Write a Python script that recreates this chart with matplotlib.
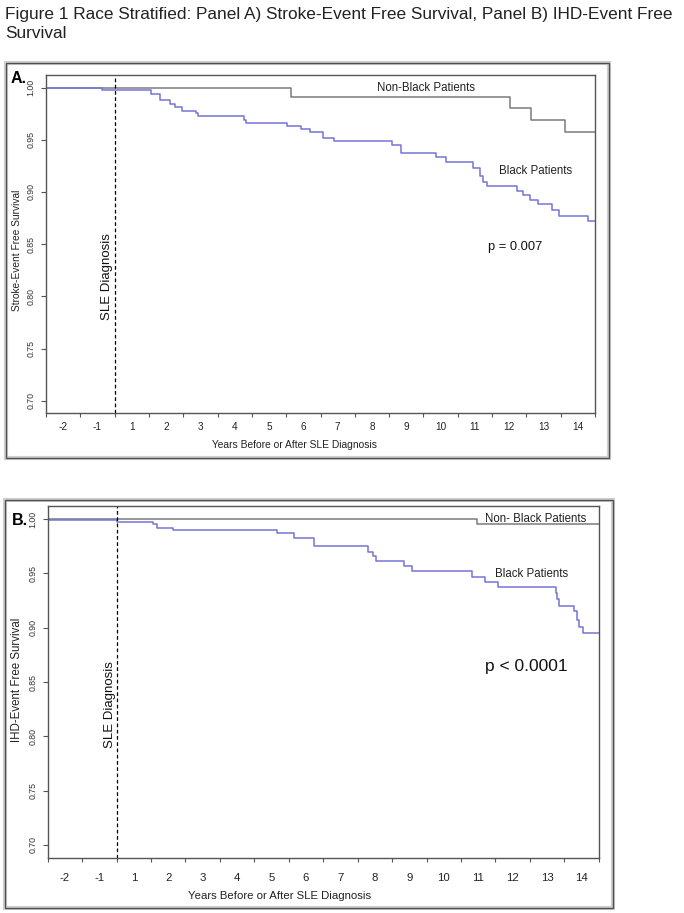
import numpy as np
import matplotlib
matplotlib.use('Agg')
import matplotlib.pyplot as plt
from matplotlib.patches import Rectangle

plt.rcParams['font.family'] = ['Liberation Sans', 'DejaVu Sans']

# panel A: stroke-event free survival (step times / levels)
a_black_t = [-2, -0.36, 1.05, 1.33, 1.61, 1.76, 1.97, 2.37, 2.44, 3.77, 3.83, 5.03, 5.42, 5.70,
             6.08, 6.40, 8.09, 8.34, 9.38, 9.67, 10.45, 10.65, 10.73, 10.84, 11.72, 11.89,
             12.11, 12.35, 12.74, 12.96, 13.81]
a_black_s = [1.000, 0.998, 0.994, 0.988, 0.984, 0.981, 0.978, 0.976, 0.973, 0.969, 0.966, 0.963,
             0.960, 0.957, 0.952, 0.949, 0.945, 0.937, 0.933, 0.929, 0.923, 0.915, 0.910, 0.906,
             0.901, 0.897, 0.892, 0.888, 0.883, 0.877, 0.872]
a_other_t = [-2, 5.13, 11.52, 12.13, 13.13]
a_other_s = [1.000, 0.991, 0.980, 0.969, 0.957]

# panel B: IHD-event free survival
b_black_t = [-2, -1.95, 0.0, 1.05, 1.18, 1.65, 4.67, 5.15, 5.73, 7.31, 7.46, 7.53, 8.35, 8.59,
             10.33, 10.70, 11.07, 12.75, 12.80, 12.85, 13.28, 13.36, 13.44, 13.53]
b_black_s = [1.000, 0.999, 0.997, 0.995, 0.992, 0.990, 0.987, 0.983, 0.975, 0.970, 0.966, 0.961,
             0.957, 0.952, 0.947, 0.942, 0.937, 0.932, 0.926, 0.920, 0.915, 0.907, 0.901, 0.895]
b_other_t = [-2, 10.47]
b_other_s = [1.000, 0.995]

year_labels = [-2, -1, 1, 2, 3, 4, 5, 6, 7, 8, 9, 10, 11, 12, 13, 14]
y_ticks = [0.70, 0.75, 0.80, 0.85, 0.90, 0.95, 1.00]

BLUE = '#7474d8'
GREY = '#7a7a7a'
T_END = 14


def steps(t, s):
    # extend last level to the end of follow-up
    return list(t) + [T_END], list(s) + [s[-1]]


fig = plt.figure(figsize=(6.84, 9.13), dpi=100)
W, H = 684.0, 913.0

fig.text(5 / W, 1 - 15 / H, 'Figure 1 Race Stratified: Panel A) Stroke-Event Free Survival, '
         'Panel B) IHD-Event Free', fontsize=12.4, va='center', ha='left', color='#222222')
fig.text(5 / W, 1 - 34 / H, 'Survival', fontsize=12.4, va='center', ha='left', color='#222222')

# boxes around panels
for (x0, y0, x1, y1) in [(6, 63, 609, 458), (5, 500, 613, 908)]:
    fig.patches.append(Rectangle((x0 / W, 1 - y1 / H), (x1 - x0) / W, (y1 - y0) / H,
                                 transform=fig.transFigure, fill=False,
                                 edgecolor='#cfcfcf', lw=3.0))
    fig.patches.append(Rectangle((x0 / W, 1 - y1 / H), (x1 - x0) / W, (y1 - y0) / H,
                                 transform=fig.transFigure, fill=False,
                                 edgecolor='#505050', lw=1.0))

panels = [
    dict(rect=(46, 75, 595, 413.3), black=(a_black_t, a_black_s), other=(a_other_t, a_other_s),
         ylabel='Stroke-Event Free Survival', ylsize=7.3, ticksize=7.2, xlsize=7.4, xpad=6,
         other_lbl=('Non-Black Patients', 9.08, 1.000), black_lbl=('Black Patients', 12.28, 0.920),
         p_lbl=('p = 0.007', 11.67, 0.847, 9.3), sle=(-0.22, 0.819), letter=('A.', 11, 78.5),
         xlabel_xy=(295, 445), ylabel_xy=(17, 250)),
    dict(rect=(47.7, 506, 598.7, 858), black=(b_black_t, b_black_s), other=(b_other_t, b_other_s),
         ylabel='IHD-Event Free Survival', ylsize=8.3, ticksize=8.2, xlsize=8.2, xpad=11,
         other_lbl=('Non- Black Patients', 12.18, 1.000), black_lbl=('Black Patients', 12.06, 0.949),
         p_lbl=('p < 0.0001', 11.89, 0.864, 12.5), sle=(-0.19, 0.829), letter=('B.', 12, 520),
         xlabel_xy=(280, 896), ylabel_xy=(17, 680)),
]

for p in panels:
    x0, y0, x1, y1 = p['rect']
    ax = fig.add_axes([x0 / W, 1 - y1 / H, (x1 - x0) / W, (y1 - y0) / H])
    ax.set_xlim(-2, T_END)
    ax.set_ylim(0.688, 1.012)

    tt, ss = steps(*p['other'])
    ax.step(tt, ss, where='post', color=GREY, lw=1.1)
    tt, ss = steps(*p['black'])
    ax.step(tt, ss, where='post', color=BLUE, lw=1.1)

    ax.axvline(0, color='black', lw=0.9, ls=(0, (3, 2)))

    for sp in ax.spines.values():
        sp.set_color('#555555')
        sp.set_linewidth(1.0)

    ax.set_yticks(y_ticks)
    ax.set_yticklabels(['%.2f' % v for v in y_ticks], rotation=90, va='center', fontsize=6.3)
    ax.tick_params(axis='y', length=3.5, width=0.8, color='#555555', pad=4, labelcolor='#333333')

    # year ticks at integers, labels centred in each year interval
    ax.set_xticks(np.arange(-2, T_END + 1))
    ax.set_xticklabels([])
    ax.tick_params(axis='x', which='major', length=3, width=0.8, color='#555555')
    ax.set_xticks([k + 0.5 if k < 0 else k - 0.5 for k in year_labels], minor=True)
    ax.set_xticklabels([str(k) for k in year_labels], minor=True, fontsize=p['ticksize'])
    ax.tick_params(axis='x', which='minor', length=0, pad=p['xpad'], labelcolor='#222222')

    lx, ly = p['ylabel_xy']
    fig.text(lx / W, 1 - ly / H, p['ylabel'], fontsize=p['ylsize'], rotation=90,
             ha='center', va='center', color='#222222')
    lx, ly = p['xlabel_xy']
    fig.text(lx / W, 1 - ly / H, 'Years Before or After SLE Diagnosis', fontsize=p['xlsize'],
             ha='center', va='center', color='#222222')

    name, tx, ty = p['other_lbl']
    ax.text(tx, ty, name, fontsize=8.3, ha='center', va='center', color='#222222')
    name, tx, ty = p['black_lbl']
    ax.text(tx, ty, name, fontsize=8.3, ha='center', va='center', color='#222222')
    name, tx, ty, fs = p['p_lbl']
    ax.text(tx, ty, name, fontsize=fs, ha='center', va='center', color='#111111')
    sx, sy = p['sle']
    ax.text(sx, sy, 'SLE Diagnosis', fontsize=9.5, rotation=90, ha='center', va='center',
            color='#111111')

    lt, lx, ly = p['letter']
    fig.text(lx / W, 1 - ly / H, lt, fontsize=11.5, fontweight='bold', ha='left', va='center')

fig.savefig('out.png', dpi=100)
